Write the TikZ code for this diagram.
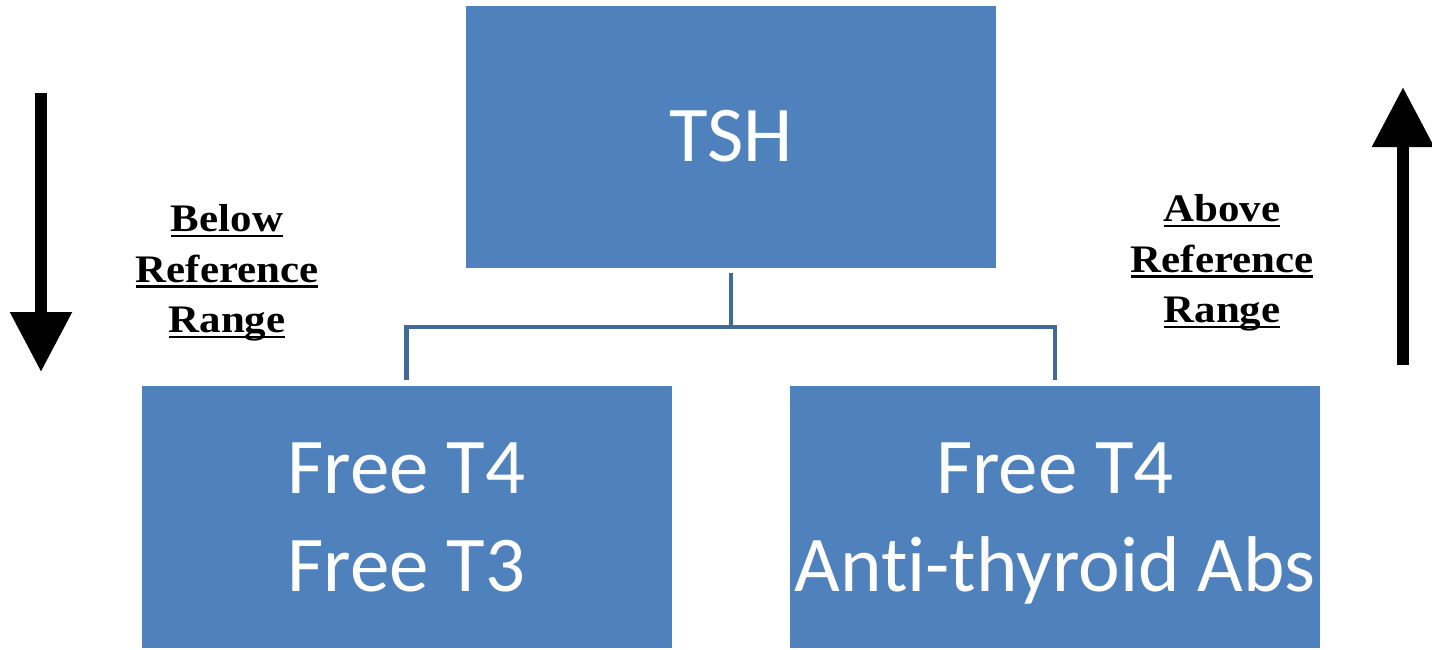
\documentclass[tikz,border=0pt]{standalone}
\usepackage{fontspec}
\setmainfont{Carlito}[Ligatures=NoCommon]
\newfontfamily\rangefont{Liberation Serif}[FakeStretch=1.1]
\usetikzlibrary{arrows.meta}
\definecolor{boxblue}{RGB}{79,129,189}
\definecolor{lineblue}{RGB}{65,106,153}
\newcommand{\rangeul}[1]{\setbox0\hbox{#1}\rlap{\rule[-2.6pt]{\wd0}{1.2pt}}\box0}

\begin{document}
\begin{tikzpicture}[x=0.5pt,y=-0.5pt,
  hbox/.style={fill=boxblue,text=white,minimum width=265pt,minimum height=131pt,inner sep=0pt,align=center,font=\fontsize{39.5}{49}\selectfont},
  conn/.style={draw=lineblue,line width=2.2pt},
  bigarrow/.style={line width=6pt,-{Triangle[width=29.5pt,length=30pt]}},
  rangelbl/.style={align=center,inner sep=0pt,anchor=north,font=\rangefont\bfseries\fontsize{19.5}{25.25}\selectfont}]
  % page size
  \useasboundingbox (0,0) rectangle (1432,649);

  % boxes
  \node[hbox] (tsh) at (731,136.5) {TSH};
  \node[hbox] (fthree) at (406.5,517) {Free T4\\Free T3};
  \node[hbox] (fabs) at (1055,517) {Free T4\\\smash{Anti-thyroid Abs}};

  % connectors
  \coordinate (hub) at (731,327);
  \draw[conn] ([yshift=-2.5pt]tsh.south) -- (hub);
  \draw[conn] ([yshift=3pt]fthree.north) |- (hub) -| ([yshift=3pt]fabs.north);

  % big arrows
  \coordinate (downtop) at (41,93);
  \coordinate (downtip) at (41,372);
  \draw[bigarrow] (downtop) -- (downtip);
  \coordinate (uptail) at (1403,365);
  \coordinate (uptip) at (1403,87);
  \draw[bigarrow] (uptail) -- (uptip);

  % labels
  \node[rangelbl] (below) at (227,204.5) {\rangeul{Below}\\\rangeul{Reference}\\\rangeul{Range}};
  \node[rangelbl] (above) at (1222,194.5) {\rangeul{Above}\\\rangeul{Reference}\\\rangeul{Range}};
\end{tikzpicture}
\end{document}
